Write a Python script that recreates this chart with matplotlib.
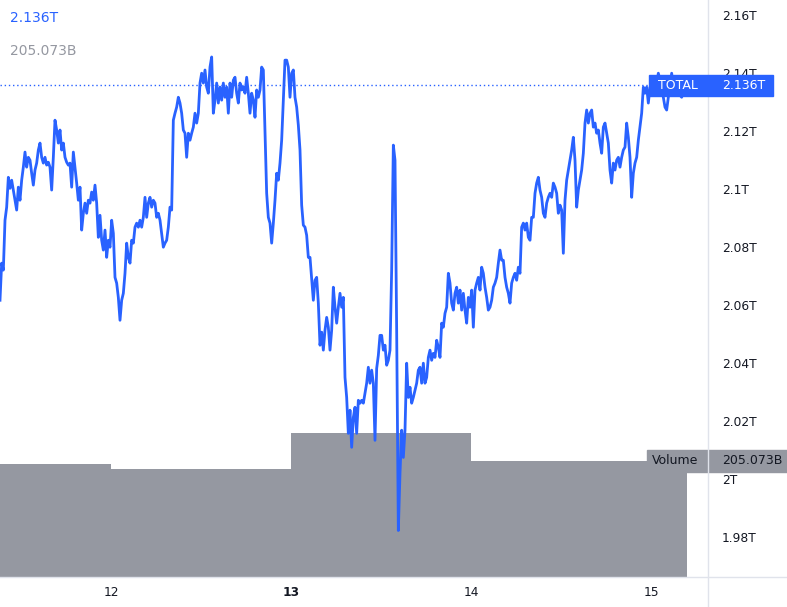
import numpy as np
import matplotlib
matplotlib.use("Agg")
import matplotlib.pyplot as plt
import matplotlib.transforms as mtransforms
from matplotlib.patches import Rectangle
from matplotlib.lines import Line2D

# total crypto market cap (trillion USD), one sample every 800 s from the 11th 09:12
total = [
    # 11th -> 12th
    2.0618, 2.0746, 2.0722, 2.0894, 2.0939, 2.1042, 2.1004, 2.1032, 2.0998, 2.0963,
    2.0929, 2.1008, 2.0963, 2.1032, 2.1077, 2.1129, 2.1077, 2.1111, 2.1101, 2.1056,
    2.1015, 2.1067, 2.1091, 2.1136, 2.1160, 2.1111, 2.1091, 2.1111, 2.1084, 2.1094,
    2.1077, 2.0998, 2.1111, 2.1239, 2.1205, 2.1160, 2.1205, 2.1136, 2.1160, 2.1111,
    2.1094, 2.1084, 2.1091, 2.1008, 2.1129, 2.1077, 2.1022, 2.0963, 2.1008, 2.0860,
    2.0918, 2.0953, 2.0918, 2.0963, 2.0953, 2.0991, 2.0963, 2.1015, 2.0953, 2.0835,
    2.0911, 2.0825, 2.0791, 2.0860, 2.0766, 2.0825, 2.0801, 2.0894, 2.0849, 2.0697,
    2.0677, 2.0628, 2.0549, 2.0618, 2.0642, 2.0711, 2.0815, 2.0766, 2.0746, 2.0825,
    2.0815, 2.0870, 2.0884, 2.0870, 2.0894,
    # 12th
    2.0870, 2.0904, 2.0973, 2.0904, 2.0953, 2.0973, 2.0939, 2.0963, 2.0953, 2.0904,
    2.0918, 2.0894, 2.0849, 2.0801, 2.0815, 2.0825, 2.0870, 2.0939, 2.0929, 2.1239,
    2.1263, 2.1284, 2.1318, 2.1298, 2.1263, 2.1205, 2.1194, 2.1111, 2.1194, 2.1170,
    2.1194, 2.1215, 2.1263, 2.1229, 2.1263, 2.1367, 2.1401, 2.1367, 2.1412, 2.1353,
    2.1332, 2.1422, 2.1457, 2.1263, 2.1308, 2.1367, 2.1298, 2.1353, 2.1308, 2.1367,
    2.1318, 2.1353, 2.1263, 2.1367, 2.1318, 2.1377, 2.1387, 2.1332, 2.1298, 2.1367,
    2.1343, 2.1353, 2.1332, 2.1387, 2.1332, 2.1263, 2.1332, 2.1308, 2.1249, 2.1343,
    2.1318, 2.1343, 2.1422, 2.1412, 2.1205, 2.0987, 2.0904, 2.0884, 2.0815, 2.0884,
    2.0963, 2.1056, 2.1032, 2.1091, 2.1170, 2.1308, 2.1446, 2.1446, 2.1422, 2.1318,
    # 13th
    2.1401, 2.1412, 2.1318, 2.1284, 2.1222, 2.1136, 2.0946, 2.0877, 2.0870, 2.0842,
    2.0766, 2.0766, 2.0694, 2.0618, 2.0687, 2.0697, 2.0608, 2.0463, 2.0508, 2.0446,
    2.0515, 2.0559, 2.0525, 2.0446, 2.0515, 2.0663, 2.0594, 2.0539, 2.0594, 2.0642,
    2.0594, 2.0628, 2.0352, 2.0283, 2.0159, 2.0239, 2.0111, 2.0214, 2.0249, 2.0159,
    2.0273, 2.0263, 2.0273, 2.0263, 2.0297, 2.0332, 2.0387, 2.0332, 2.0377, 2.0332,
    2.0135, 2.0383, 2.0428, 2.0497, 2.0497, 2.0446, 2.0463, 2.0394, 2.0411, 2.0446,
    2.0722, 2.1153, 2.1101, 2.0515, 1.9824, 2.0021, 2.0170, 2.0076, 2.0170, 2.0401,
    2.0283, 2.0318, 2.0263, 2.0283, 2.0308, 2.0332, 2.0377, 2.0387,
    # 13th -> 14th
    2.0332, 2.0401, 2.0332, 2.0352, 2.0421, 2.0446, 2.0411, 2.0435, 2.0421, 2.0480,
    2.0456, 2.0421, 2.0539, 2.0525, 2.0573, 2.0594, 2.0711, 2.0677, 2.0608, 2.0584,
    2.0642, 2.0663, 2.0608, 2.0653, 2.0584, 2.0642, 2.0584, 2.0539, 2.0628, 2.0594,
    2.0653, 2.0525, 2.0653, 2.0677, 2.0697, 2.0653, 2.0732, 2.0711, 2.0663, 2.0628,
    2.0584, 2.0594, 2.0618, 2.0663, 2.0677, 2.0697, 2.0746, 2.0791, 2.0756, 2.0756,
    2.0697, 2.0663, 2.0642, 2.0608, 2.0677, 2.0697, 2.0711, 2.0687, 2.0732, 2.0711,
    2.0870, 2.0884, 2.0860, 2.0884, 2.0835, 2.0825, 2.0904, 2.0904, 2.0987, 2.1022,
    2.1042, 2.0998, 2.0973, 2.0918, 2.0904, 2.0953, 2.0973, 2.0987, 2.0973, 2.1022,
    2.1008, 2.0987, 2.0918, 2.0946,
    # 14th -> 15th
    2.0929, 2.0780, 2.0963, 2.1032, 2.1067, 2.1101, 2.1136, 2.1180, 2.1101, 2.0939,
    2.0998, 2.1032, 2.1067, 2.1125, 2.1229, 2.1274, 2.1229, 2.1263, 2.1274, 2.1215,
    2.1229, 2.1194, 2.1205, 2.1160, 2.1125, 2.1215, 2.1229, 2.1194, 2.1160, 2.1067,
    2.1022, 2.1091, 2.1067, 2.1101, 2.1111, 2.1077, 2.1111, 2.1136, 2.1146, 2.1229,
    2.1180, 2.1111, 2.0973, 2.1056, 2.1091, 2.1111, 2.1170, 2.1215, 2.1263, 2.1353,
    2.1332, 2.1353, 2.1298, 2.1353, 2.1343, 2.1377, 2.1343, 2.1367, 2.1401, 2.1377,
    2.1343, 2.1318, 2.1284, 2.1274, 2.1318, 2.1353, 2.1401, 2.1353, 2.1367, 2.1353,
    2.1343, 2.1325, 2.1318, 2.1336, 2.1353, 2.1360,
]
start_hour = 9.2            # hours after the 11th 00:00
step_hour = 800 / 3600
hours = start_hour + np.arange(len(total)) * step_hour

# volume (billion USD), one step per day
vol_start = [0, 24, 48, 72]
volume = [199.7, 190.9, 254.6, 205.073]

day_ticks = [24, 48, 72, 96]
day_labels = ['12', '13', '14', '15']
price_ticks = [1.98, 2.00, 2.02, 2.04, 2.06, 2.08, 2.10, 2.12, 2.14, 2.16]

blue = '#2962ff'
grey = '#9598a1'
txt = '#131722'
edge = '#e0e3eb'

fig = plt.figure(figsize=(7.87, 6.07), dpi=100)
ax = fig.add_axes([0, 30 / 607, 708 / 787, 577 / 607])
ax2 = ax.twinx()
ax.set_zorder(2)
ax.patch.set_visible(False)

# volume steps
vol_end = vol_start[1:] + [hours[-1]]
widths = [e - s for s, e in zip(vol_start, vol_end)]
ax2.bar(vol_start, volume, width=widths, align='edge', color=grey, linewidth=0)
ax2.set_ylim(0, 1020)
ax2.set_yticks([])
for s in ax2.spines.values():
    s.set_visible(False)

# price line
ax.plot(hours, total, color=blue, lw=2.0, solid_joinstyle='round', zorder=3)
ax.axhline(total[-1], color=blue, lw=1.0, linestyle=(0, (1.0, 2.0)), zorder=2)

ax.set_xlim(9.2, 103.6)
ax.set_ylim(1.96637, 2.16534)

ax.set_xticks(day_ticks)
ax.set_xticklabels(day_labels)
ax.get_xticklabels()[1].set_fontweight('bold')
ax.set_yticks(price_ticks)
ax.set_yticklabels([f"{v:.2f}".rstrip('0').rstrip('.') + 'T' for v in price_ticks])
ax.yaxis.tick_right()
ax.tick_params(axis='y', length=0, pad=10, labelsize=8.8, labelcolor=txt)
ax.tick_params(axis='x', length=0, pad=6.5, labelsize=8.8, labelcolor=txt)
for s in ax.spines.values():
    s.set_visible(False)

# separators between plot and scales
x_sep = ax.get_position().x1
y_sep = ax.get_position().y0
fig.add_artist(Line2D([x_sep, x_sep], [0, 1], transform=fig.transFigure, color=edge, lw=1))
fig.add_artist(Line2D([0, 1], [y_sep, y_sep], transform=fig.transFigure, color=edge, lw=1))

# last value labels on the price scale
tr = mtransforms.blended_transform_factory(ax.transAxes, ax.transData)
ax.add_patch(Rectangle((0.9167, total[-1] - 0.00362), 0.1751, 0.00724, transform=tr,
                       color=blue, clip_on=False, zorder=6))
ax.text(0.9294, total[-1], 'TOTAL', transform=tr, color='white', fontsize=9,
        va='center', ha='left', zorder=7, clip_on=False)
ax.text(1.0198, total[-1], f"{total[-1]:.3f}T", transform=tr, color='white', fontsize=9,
        va='center', ha='left', zorder=7, clip_on=False)

tr2 = mtransforms.blended_transform_factory(ax2.transAxes, ax2.transData)
ax2.add_patch(Rectangle((0.9138, volume[-1] - 19.5), 0.2, 39, transform=tr2,
                        color=grey, clip_on=False, zorder=6))
ax2.text(0.921, volume[-1], 'Volume', transform=tr2, color=txt, fontsize=9,
         va='center', ha='left', zorder=7, clip_on=False)
ax2.text(1.0198, volume[-1], f"{volume[-1]:.3f}B", transform=tr2, color=txt, fontsize=9,
         va='center', ha='left', zorder=7, clip_on=False)

# legend values top left
fig.text(10 / 787, 1 - 18 / 607, f"{total[-1]:.3f}T", color=blue, fontsize=10, va='center')
fig.text(10 / 787, 1 - 51 / 607, f"{volume[-1]:.3f}B", color=grey, fontsize=10, va='center')

fig.savefig('out.png', dpi=100, facecolor='white')
